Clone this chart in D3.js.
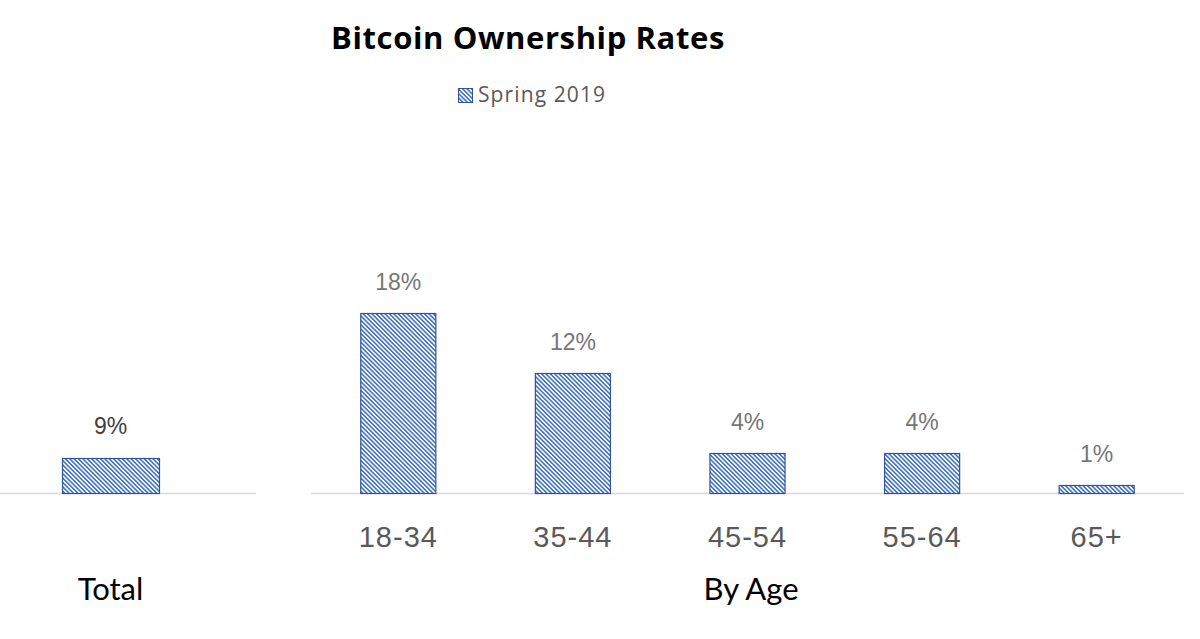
<!DOCTYPE html>
<html><head><meta charset="utf-8">
<script src="https://cdn.jsdelivr.net/npm/d3@7/dist/d3.min.js"></script>
<style>body{margin:0;background:#fff}svg{display:block}</style>
</head><body><svg id="c" width="1200" height="639"></svg>
<script>
const title = "Bitcoin Ownership Rates";
const seriesName = "Spring 2019";
const totalCategories = ["Total"];
const totalValues = [9];
const ageCategories = ["18-34", "35-44", "45-54", "55-64", "65+"];
const ageValues = [18, 12, 4, 4, 0.8];
const ageLabels = ["18%", "12%", "4%", "4%", "1%"];
const totalLabels = ["9%"];
const groupTitles = ["Total", "By Age"];

const svg = d3.select("#c");
const defs = svg.append("defs");
const pat = defs.append("pattern").attr("id","hatch").attr("patternUnits","userSpaceOnUse")
  .attr("width",3.1).attr("height",3.1).attr("patternTransform","rotate(-45)");
pat.append("rect").attr("width",3.1).attr("height",3.1).attr("fill","#fff");
pat.append("rect").attr("width",1.6).attr("height",3.1).attr("fill","#4472C4");

const base = 493.5;
const blue = "#2F5597";

// Left panel (Total)
const xL = d3.scaleBand().domain(totalCategories).range([-35,256]).paddingInner(0.5).paddingOuter(0.5);
const yL = d3.scaleLinear().domain([0,9]).range([base, base-35]);
const gL = svg.append("g");
gL.append("line").attr("x1",0).attr("x2",256).attr("y1",base).attr("y2",base).attr("stroke","#d9d9d9").attr("stroke-width",1.5);
gL.selectAll("rect").data(totalValues).join("rect")
  .attr("x",(d,i)=>xL(totalCategories[i])+0.5).attr("width",xL.bandwidth())
  .attr("y",d=>yL(d)).attr("height",d=>base-yL(d))
  .attr("fill","url(#hatch)").attr("stroke",blue).attr("stroke-width",1.2);
gL.selectAll("text.v").data(totalValues).join("text").attr("class","v")
  .attr("x",(d,i)=>xL(totalCategories[i])+xL.bandwidth()/2).attr("y",d=>yL(d)-25)
  .attr("text-anchor","middle").attr("font-family","Liberation Sans, Arial, sans-serif")
  .attr("font-size",23).attr("fill","#404040").text((d,i)=>totalLabels[i]);

// Right panel (By Age)
const xR = d3.scaleBand().domain(ageCategories).range([311,1184]).paddingInner(0.57).paddingOuter(0.285);
const yR = d3.scaleLinear().domain([0,18]).range([base, base-180]);
const gR = svg.append("g");
gR.append("line").attr("x1",311).attr("x2",1184).attr("y1",base).attr("y2",base).attr("stroke","#d9d9d9").attr("stroke-width",1.5);
gR.selectAll("rect").data(ageValues).join("rect")
  .attr("x",(d,i)=>xR(ageCategories[i])).attr("width",xR.bandwidth())
  .attr("y",d=>yR(d)).attr("height",d=>base-yR(d))
  .attr("fill","url(#hatch)").attr("stroke",blue).attr("stroke-width",1.2);
gR.selectAll("text.v").data(ageValues).join("text").attr("class","v")
  .attr("x",(d,i)=>xR(ageCategories[i])+xR.bandwidth()/2).attr("y",d=>yR(d)-24)
  .attr("text-anchor","middle").attr("font-family","Liberation Sans, Arial, sans-serif")
  .attr("font-size",23).attr("fill","#767676").text((d,i)=>ageLabels[i]);
const axR = d3.axisBottom(xR).tickSize(0).tickPadding(0);
const axG = gR.append("g").attr("transform",`translate(0,${base})`).call(axR);
axG.select(".domain").remove();
axG.selectAll("text").attr("dy",0).attr("y",53).attr("font-family","Liberation Sans, Arial, sans-serif")
  .attr("font-size",29).attr("fill","#595959").attr("letter-spacing",1);

// Group titles
svg.selectAll("text.gt").data(groupTitles).join("text").attr("class","gt")
  .attr("x",(d,i)=>i===0?xL(totalCategories[0])+xL.bandwidth()/2:751).attr("y",600)
  .attr("text-anchor","middle").attr("font-family","Lato, sans-serif").attr("font-size",31).attr("fill","#000").text(d=>d);

// Title
svg.append("text").attr("x",528).attr("y",49).attr("text-anchor","middle")
  .attr("font-family","Open Sans, sans-serif").attr("font-weight","bold").attr("font-size",31)
  .attr("letter-spacing",0.6).attr("fill","#000").text(title);

// Legend
svg.append("rect").attr("x",458.5).attr("y",88.5).attr("width",14).attr("height",14)
  .attr("fill","url(#hatch)").attr("stroke",blue).attr("stroke-width",1);
svg.append("text").attr("x",478).attr("y",102).attr("font-family","Open Sans, sans-serif")
  .attr("font-size",21).attr("letter-spacing",1.1).attr("fill","#595959").text(seriesName);
</script></body></html>
